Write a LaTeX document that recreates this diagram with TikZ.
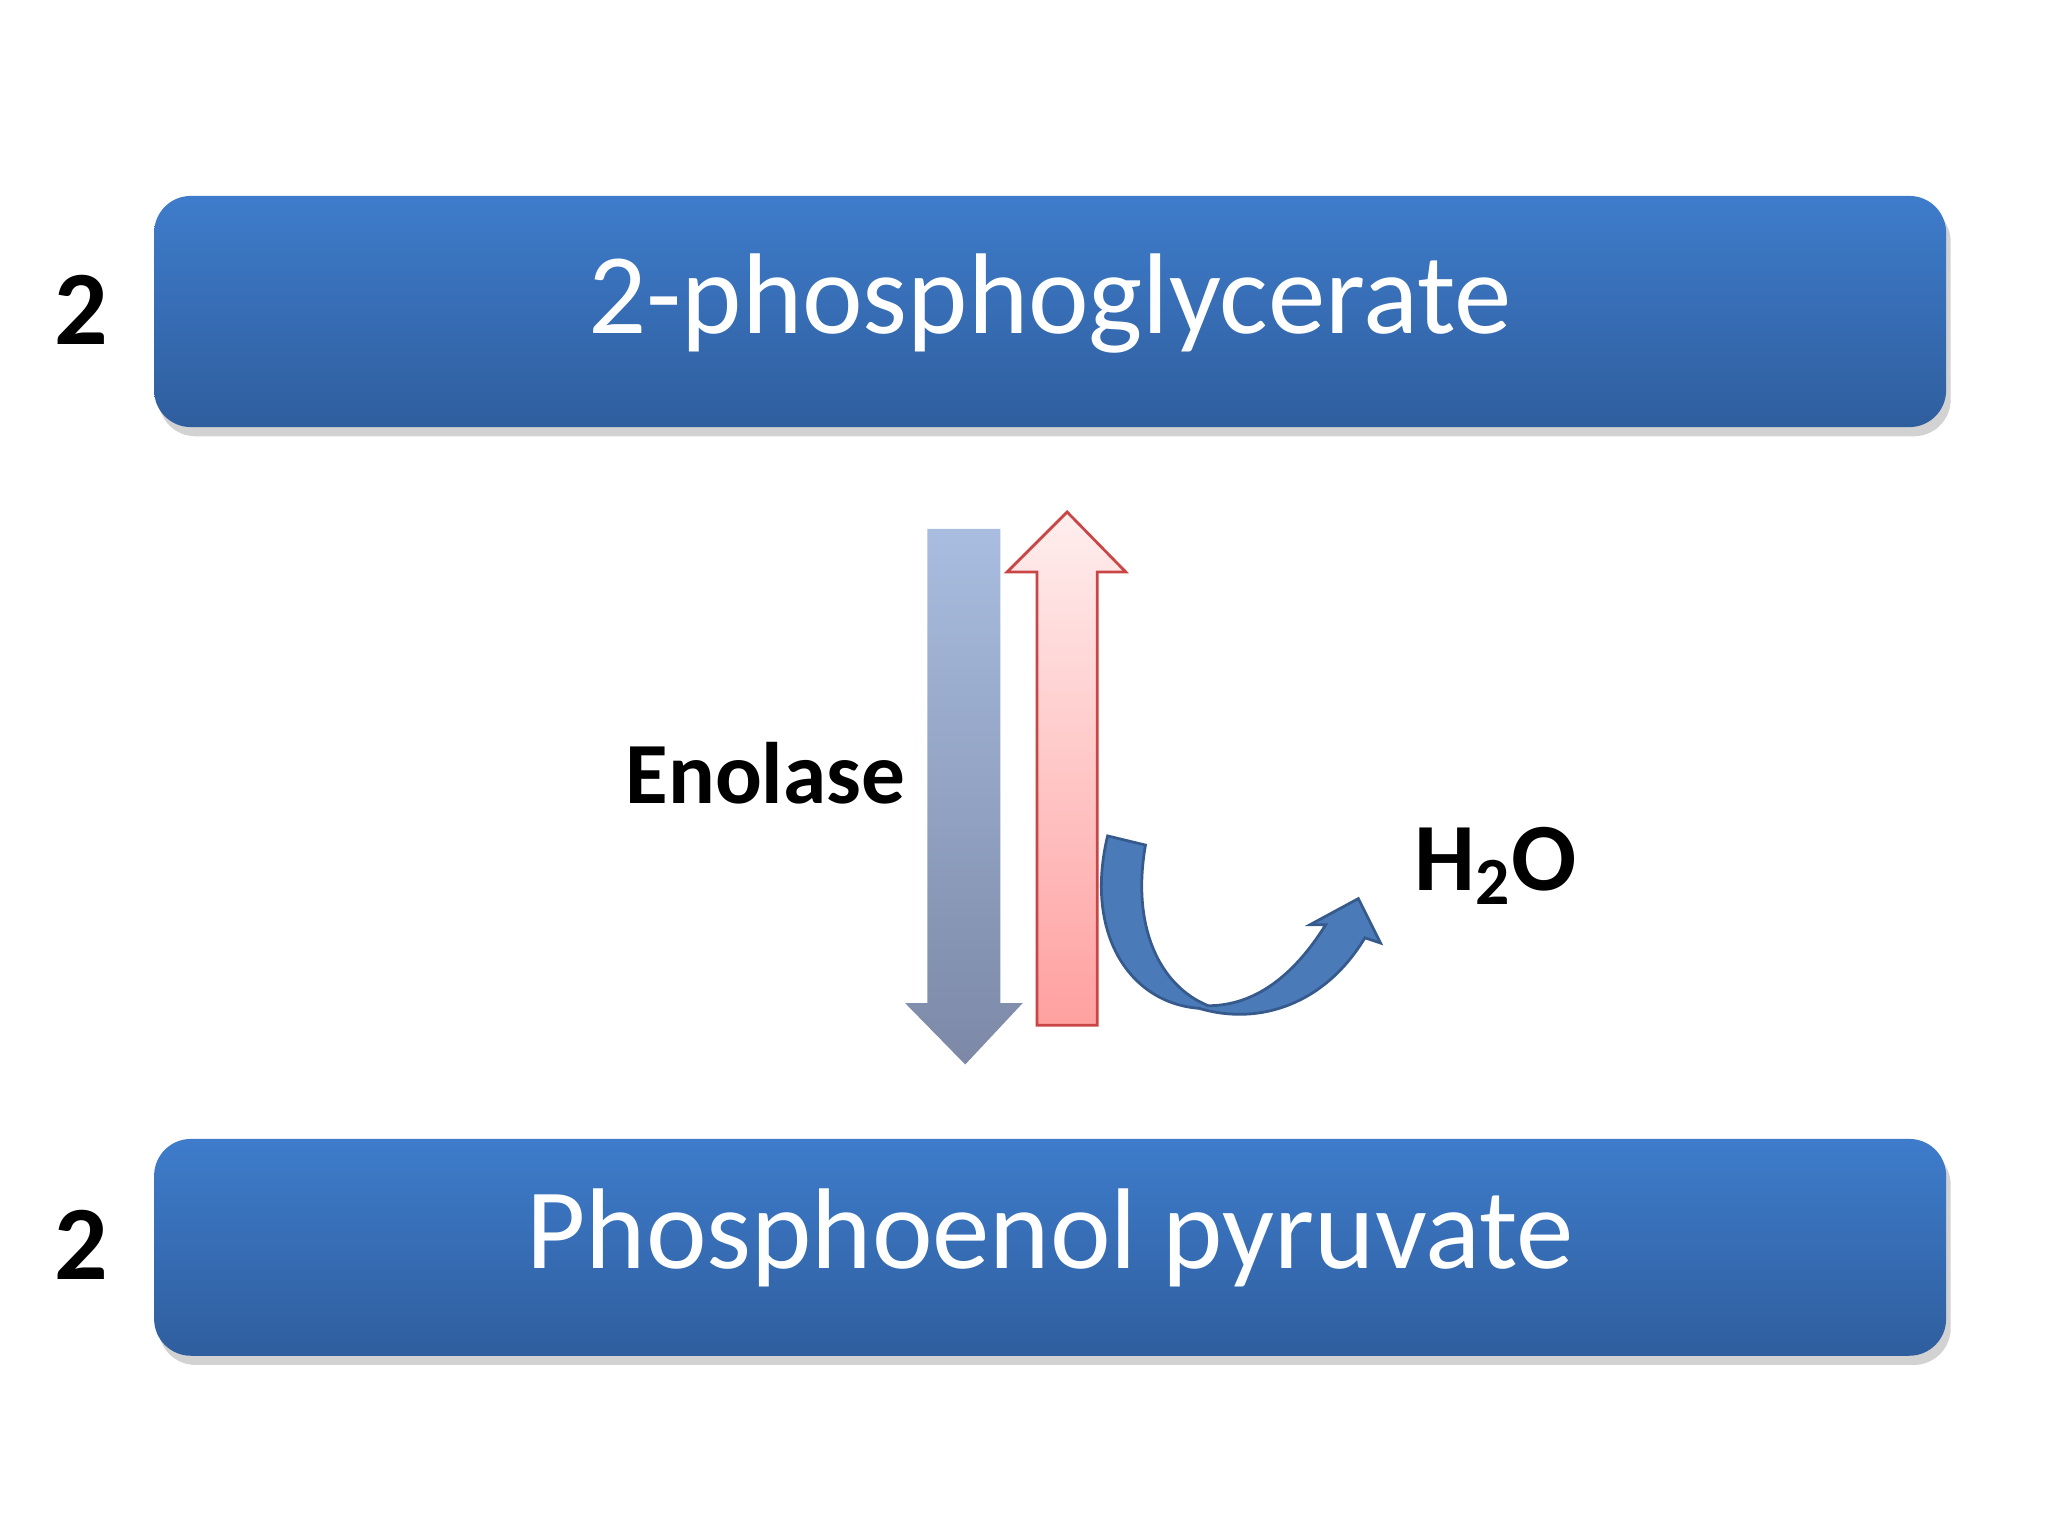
\documentclass[tikz,border=0pt]{standalone}
\usepackage{fontspec}
\setmainfont{Carlito}
\usetikzlibrary{shadows}
\definecolor{boxtop}{HTML}{3E7CCB}
\definecolor{boxbot}{HTML}{2F5E9E}
\tikzset{
  bar/.style={rounded corners=8pt, top color=boxtop, bottom color=boxbot, draw=none,
    drop shadow={shadow xshift=1pt, shadow yshift=-2pt, opacity=0.35}},
  bartext/.style={text=white, font=\fontsize{25}{28}\selectfont},
  num/.style={font=\bfseries\fontsize{23}{26}\selectfont},
}
\begin{document}
\begin{tikzpicture}[x=0.01cm,y=-0.01cm]
\useasboundingbox (0,0) rectangle (1568,1176);
\fill[white] (0,0) rectangle (1568,1176);
% boxes
\path[bar] (118,150) rectangle (1490,327);
\node[bartext] (top) at (804,232) {2-phosphoglycerate};
\path[bar] (118,872) rectangle (1490,1038);
\node[bartext] (bot) at (804,948) {Phosphoenol pyruvate};
\node[num] (n1) at (62,237) {2};
\node[num] (n2) at (62,953) {2};
% down arrow
\shade[top color={rgb,255:red,168;green,189;blue,224}, bottom color={rgb,255:red,124;green,136;blue,166}]
  (710,405) -- (766,405) -- (766,768) -- (783,768) -- (739,815) -- (693,768) -- (710,768) -- cycle;
% up arrow
\shade[draw={rgb,255:red,200;green,70;blue,70}, line width=0.6pt, top color={rgb,255:red,255;green,238;blue,238}, bottom color={rgb,255:red,255;green,160;blue,160}]
  (794,785) -- (840,785) -- (840,438) -- (862,438) -- (817,392) -- (771,438) -- (794,438) -- cycle;
% curved arrow
\fill[draw={rgb,255:red,55;green,90;blue,140}, line width=0.6pt, fill={rgb,255:red,74;green,122;blue,184}]
  (848,640) .. controls (830,715) and (865,768) .. (918,772)
  .. controls (965,786) and (1015,768) .. (1045,718)
  -- (1057,722) -- (1040,688) -- (1003,708) -- (1015,708)
  .. controls (990,748) and (960,770) .. (925,770)
  .. controls (888,755) and (866,710) .. (877,647) -- cycle;
\node[font=\bfseries\fontsize{19}{22}\selectfont] (enz) at (586,592) {Enolase};
\node[font=\bfseries\fontsize{21}{24}\selectfont] (h2o) at (1145,663) {H\textsubscript{2}O};
\end{tikzpicture}
\end{document}
